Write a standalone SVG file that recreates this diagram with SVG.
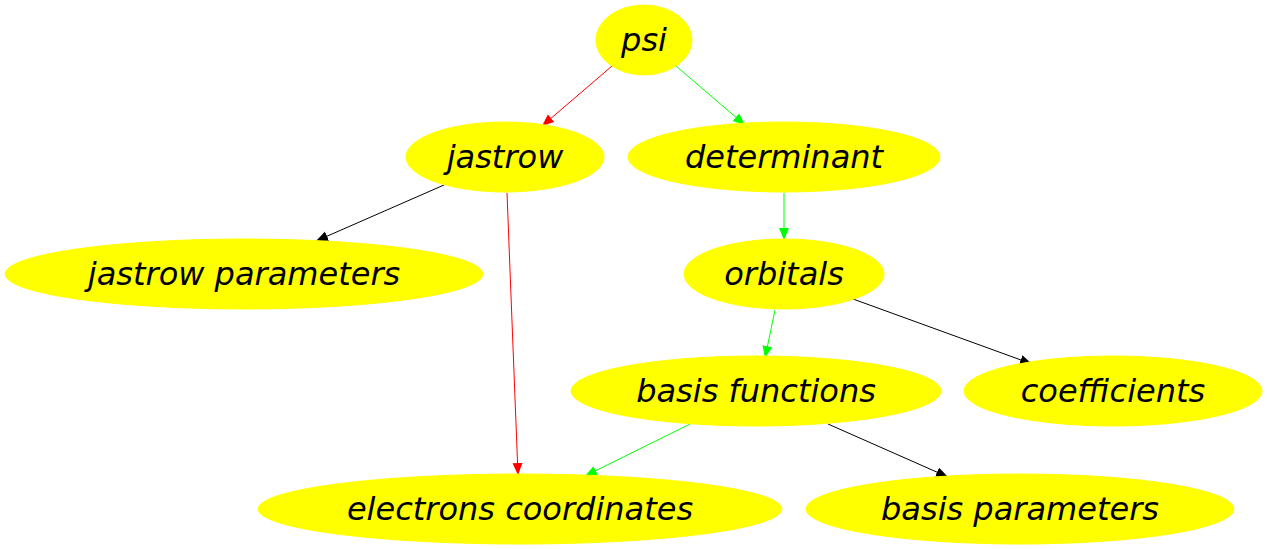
<svg xmlns="http://www.w3.org/2000/svg" width="1267" height="549" viewBox="0 0 1267 549">
<style>
.n ellipse{fill:#ffff00;stroke:#ffff00;stroke-width:1}
.n text{font-family:"DejaVu Sans",sans-serif;font-style:oblique;font-size:32px;fill:#000;text-anchor:middle}
.e{fill:none;stroke-width:1}
.r{stroke:#ff0000}.g{stroke:#00ff00}.k{stroke:#000}
</style>
<defs>
<marker id="ar" markerUnits="userSpaceOnUse" markerWidth="13" markerHeight="11" refX="12" refY="5" orient="auto"><path d="M0,0 L12,5 L0,10 z" fill="#ff0000"/></marker>
<marker id="ag" markerUnits="userSpaceOnUse" markerWidth="13" markerHeight="11" refX="12" refY="5" orient="auto"><path d="M0,0 L12,5 L0,10 z" fill="#00ff00"/></marker>
<marker id="ak" markerUnits="userSpaceOnUse" markerWidth="13" markerHeight="11" refX="12" refY="5" orient="auto"><path d="M0,0 L12,5 L0,10 z" fill="#000"/></marker>
</defs>
<rect width="1267" height="549" fill="#fff"/>
<g id="edges">
<path class="e r" d="M612,66 L542,126" marker-end="url(#ar)"/>
<path class="e g" d="M676,66 L745,125" marker-end="url(#ag)"/>
<path class="e k" d="M444,185 L316,241" marker-end="url(#ak)"/>
<path class="e r" d="M507,193 L518,475" marker-end="url(#ar)"/>
<path class="e g" d="M784,193 L784,240" marker-end="url(#ag)"/>
<path class="e g" d="M775,310 L765,358" marker-end="url(#ag)"/>
<path class="e k" d="M853,299 L1032,364" marker-end="url(#ak)"/>
<path class="e g" d="M690,424 L585,476" marker-end="url(#ag)"/>
<path class="e k" d="M828,424 L948,477" marker-end="url(#ak)"/>
</g>
<g id="psi" class="n"><ellipse cx="644" cy="40" rx="48" ry="35"/><text x="644" y="51">psi</text></g>
<g id="jastrow" class="n"><ellipse cx="505" cy="157" rx="99" ry="35"/><text x="505" y="168">jastrow</text></g>
<g id="determinant" class="n"><ellipse cx="784" cy="157" rx="156" ry="35"/><text x="784" y="168">determinant</text></g>
<g id="jastrow_parameters" class="n"><ellipse cx="244" cy="274" rx="239" ry="35"/><text x="244" y="285">jastrow parameters</text></g>
<g id="orbitals" class="n"><ellipse cx="784" cy="274" rx="100" ry="35"/><text x="784" y="285">orbitals</text></g>
<g id="basis_functions" class="n"><ellipse cx="756" cy="391" rx="185" ry="35"/><text x="756" y="402">basis functions</text></g>
<g id="coefficients" class="n"><ellipse cx="1113" cy="391" rx="149" ry="35"/><text x="1113" y="402">coefficients</text></g>
<g id="electrons_coordinates" class="n"><ellipse cx="520" cy="509" rx="262" ry="35"/><text x="520" y="520">electrons coordinates</text></g>
<g id="basis_parameters" class="n"><ellipse cx="1020" cy="509" rx="214" ry="35"/><text x="1020" y="520">basis parameters</text></g>
</svg>
